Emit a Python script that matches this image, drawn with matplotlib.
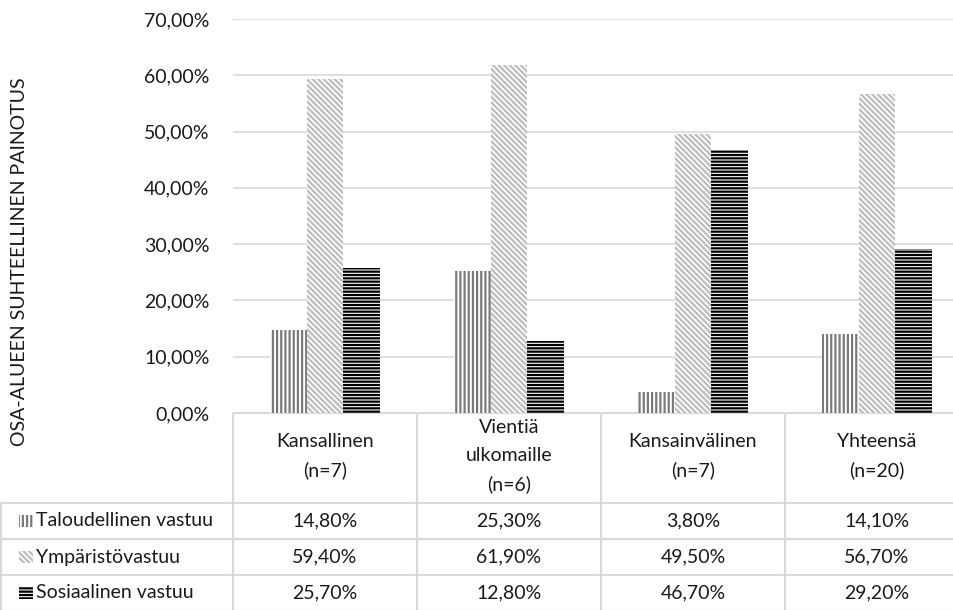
import matplotlib
matplotlib.use("Agg")
import matplotlib.pyplot as plt
from matplotlib.patches import Rectangle
from matplotlib.ticker import FuncFormatter

plt.rcParams['font.family'] = ['Lato', 'DejaVu Sans']
plt.rcParams['hatch.linewidth'] = 1.6

# kyselyn tulokset, osuudet prosentteina
ryhmat = ["Kansallinen\n(n=7)", "Vientiä\nulkomaille\n(n=6)", "Kansainvälinen\n(n=7)", "Yhteensä\n(n=20)"]
sarjat = ["Taloudellinen vastuu", "Ympäristövastuu", "Sosiaalinen vastuu"]
taloudellinen = [14.8, 25.3, 3.8, 14.1]
ymparisto = [59.4, 61.9, 49.5, 56.7]
sosiaalinen = [25.7, 12.8, 46.7, 29.2]

arvot = [taloudellinen, ymparisto, sosiaalinen]
kuviot = ['||||', '\\\\\\\\\\\\', '-----']
varit = ['#7a7a7a', '#bdbdbd', '#000000']
viiva = '#d9d9d9'
teksti = '#1a1a1a'
koko = 14

W, H = 954, 610
fig = plt.figure(figsize=(W / 100, H / 100), dpi=100)

# piirtoalue: nolla-akseli rivillä 413, 70 % rivillä 19, sarakkeen leveys 184 px
x0, col_w, y0, y70 = 233, 184, 413, 19
ax = fig.add_axes([x0 / W, (H - y0) / H, 4 * col_w / W, (y0 - y70) / H])

leveys = 0.2
for i, (sarja, kuvio, vari) in enumerate(zip(arvot, kuviot, varit)):
    pos = [k + (i - 1) * leveys for k in range(len(ryhmat))]
    ax.bar(pos, [v / 100 for v in sarja], width=leveys, facecolor='white',
           edgecolor=vari, linewidth=0, hatch=kuvio, zorder=3)

ax.set_xlim(-0.5, len(ryhmat) - 0.5)
ax.set_ylim(0, 0.7)
ax.set_yticks([i / 10 for i in range(8)])
ax.yaxis.set_major_formatter(FuncFormatter(lambda v, p: f"{v * 100:.2f}".replace('.', ',') + '%'))
ax.tick_params(axis='y', length=0, pad=17, labelsize=koko, labelcolor=teksti)
ax.set_xticks([])
ax.grid(axis='y', color=viiva, linewidth=1.2, zorder=0)
for s in ['top', 'right', 'left']:
    ax.spines[s].set_visible(False)
ax.spines['bottom'].set_color(viiva)
ax.spines['bottom'].set_linewidth(1.5)

fig.text(20 / W, 1 - 262 / H, "OSA-ALUEEN SUHTEELLINEN PAINOTUS", rotation=90,
         ha='center', va='center', fontsize=koko, color=teksti)

# taulukko kuvaajan alle, koordinaatit pikseleinä ylhäältä alas
tab = fig.add_axes([0, 0, 1, (H - y0) / H])
tab.set_xlim(0, W)
tab.set_ylim(H - y0, 0)
tab.axis('off')

header_h, row_h = 90, 36
cols = [x0 + k * col_w for k in range(len(ryhmat) + 1)]
for x in cols:
    tab.plot([x, x], [0, H], color=viiva, lw=1.5)
tab.plot([1, 1], [header_h, H], color=viiva, lw=1.5)
for r in range(len(sarjat) + 1):
    y = header_h + r * row_h
    tab.plot([1, W], [y, y], color=viiva, lw=1.5)

for k, nimi in enumerate(ryhmat):
    tab.text(x0 + (k + 0.5) * col_w, header_h / 2 - 2, nimi, ha='center', va='center',
             fontsize=koko, color=teksti, linespacing=1.75)

for r, (nimi, sarja, kuvio, vari) in enumerate(zip(sarjat, arvot, kuviot, varit)):
    yc = header_h + (r + 0.5) * row_h
    tab.add_patch(Rectangle((19, yc - 6), 14, 12, facecolor='white', edgecolor=vari,
                            linewidth=0, hatch=kuvio))
    tab.text(36, yc, nimi, ha='left', va='center', fontsize=koko, color=teksti)
    for k, v in enumerate(sarja):
        tab.text(x0 + (k + 0.5) * col_w, yc, f"{v:.2f}".replace('.', ',') + '%',
                 ha='center', va='center', fontsize=koko, color=teksti)

fig.savefig("out.png", dpi=100)
